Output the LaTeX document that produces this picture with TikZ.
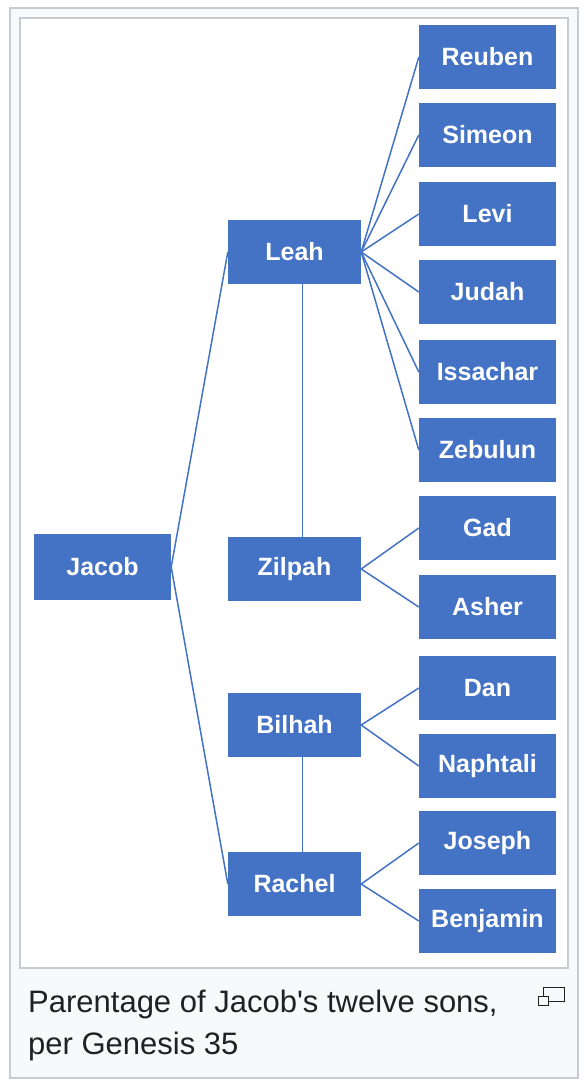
\documentclass[tikz,border=0pt]{standalone}
\usepackage{fontspec}
\setmainfont{Liberation Sans}
\definecolor{gnBlue}{RGB}{68,114,196}
\definecolor{gnFrame}{RGB}{200,204,209}
\definecolor{gnPanel}{RGB}{248,249,250}
\definecolor{gnText}{RGB}{32,33,34}

\begin{document}
\begin{tikzpicture}[x=1pt, y=-1pt,
  person/.style={fill=gnBlue, text=white, inner sep=0pt, minimum height=64pt,
    font=\fontsize{25}{28}\selectfont\bfseries},
  parent/.style={person, minimum width=133pt},
  son/.style={person, minimum width=137pt},
  link/.style={gnBlue, line width=1.5pt}]
\useasboundingbox (0,0) rectangle (588,1086);
%% Frame and caption panel
\fill[white] (0,0) rectangle (588,1086);
\draw[gnFrame, fill=gnPanel, line width=1.2pt] (10,8) rectangle (578,1078);
\draw[gnFrame, fill=white, line width=1.2pt] (20,18) rectangle (568,968);
%% Generations
\node[person, minimum width=137pt, minimum height=66pt] (jacob) at (102.5,567) {Jacob};
\node[parent] (leah)   at (294.5,252) {Leah};
\node[parent] (zilpah) at (294.5,569) {Zilpah};
\node[parent] (bilhah) at (294.5,725) {Bilhah};
\node[parent] (rachel) at (294.5,884) {Rachel};
\node[son] (reuben)   at (487.5,57)  {Reuben};
\node[son] (simeon)   at (487.5,135) {Simeon};
\node[son] (levi)     at (487.5,214) {Levi};
\node[son] (judah)    at (487.5,292) {Judah};
\node[son] (issachar) at (487.5,372) {Issachar};
\node[son] (zebulun)  at (487.5,450) {Zebulun};
\node[son] (gad)      at (487.5,528) {Gad};
\node[son] (asher)    at (487.5,607) {Asher};
\node[son] (dan)      at (487.5,688) {Dan};
\node[son] (naphtali) at (487.5,766) {Naphtali};
\node[son] (joseph)   at (487.5,843) {Joseph};
\node[son] (benjamin) at (487.5,921) {Benjamin};
%% Links
\draw[link] (jacob.east) -- (leah.west);
\draw[link] (jacob.east) -- (rachel.west);
\draw[link] ([xshift=8pt]leah.south) -- ([xshift=8pt]zilpah.north);
\draw[link] ([xshift=8pt]bilhah.south) -- ([xshift=8pt]rachel.north);
\draw[link] (leah.east) -- (reuben.west);
\draw[link] (leah.east) -- (simeon.west);
\draw[link] (leah.east) -- (levi.west);
\draw[link] (leah.east) -- (judah.west);
\draw[link] (leah.east) -- (issachar.west);
\draw[link] (leah.east) -- (zebulun.west);
\draw[link] (zilpah.east) -- (gad.west);
\draw[link] (zilpah.east) -- (asher.west);
\draw[link] (bilhah.east) -- (dan.west);
\draw[link] (bilhah.east) -- (naphtali.west);
\draw[link] (rachel.east) -- (joseph.west);
\draw[link] (rachel.east) -- (benjamin.west);
%% Caption
\node[anchor=base west, inner sep=0pt, text=gnText, font=\fontsize{31}{36}\selectfont]
  (captionA) at (28,1012) {Parentage of Jacob\textquotesingle s twelve sons,};
\node[anchor=base west, inner sep=0pt, text=gnText, font=\fontsize{31}{36}\selectfont]
  (captionB) at (28,1054) {per Genesis 35};
\draw[gnText, line width=1pt] (543,987) rectangle (564,1001);
\draw[gnText, fill=gnPanel, line width=1pt] (538,996) rectangle (548,1005);
\end{tikzpicture}
\end{document}
